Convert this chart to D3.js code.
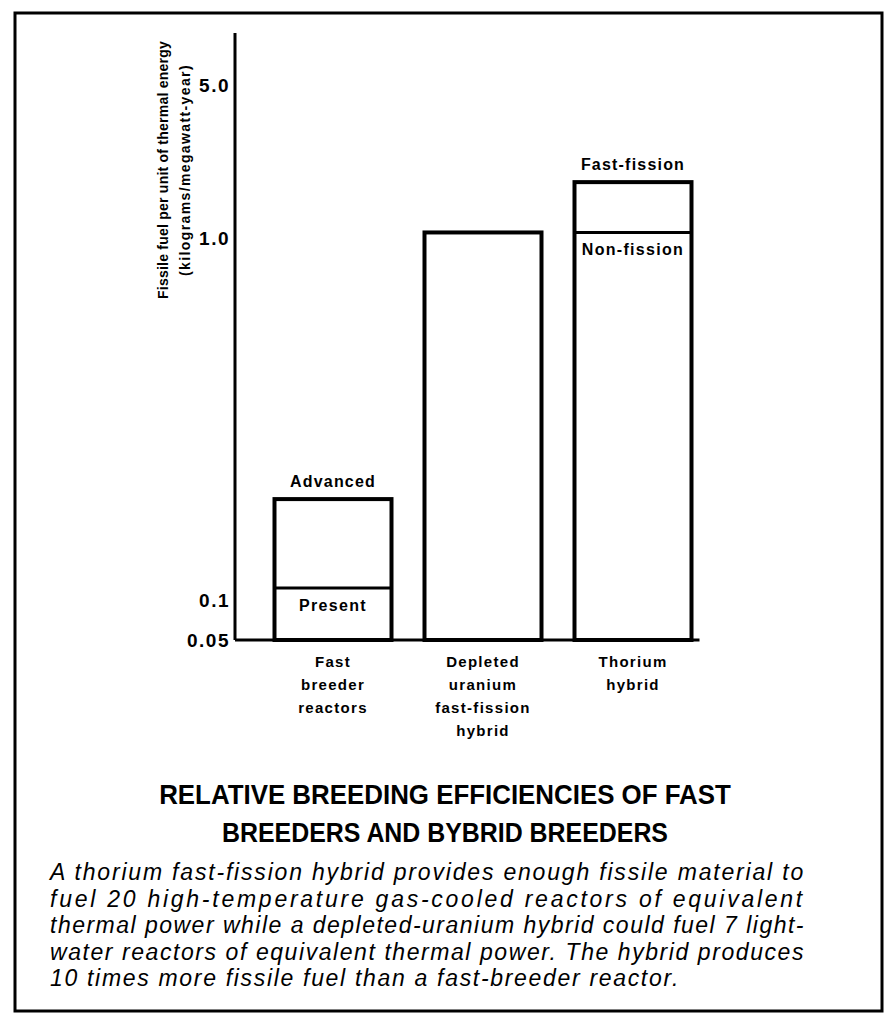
<!DOCTYPE html>
<meta charset="utf-8">
<style>
  body { margin: 0; background: #fff; }
  svg text { fill: #000; }
  .lbl { font-family: "Liberation Sans", Arial, sans-serif; font-weight: bold; }
</style>
<body>
<div id="chart"></div>
<script src="https://d3js.org/d3.v7.min.js"></script>
<script>
// ---- data ----
var categories = ["Fast breeder reactors", "Depleted uranium fast-fission hybrid", "Thorium hybrid"];
var categoryLines = [["Fast", "breeder", "reactors"], ["Depleted", "uranium", "fast-fission", "hybrid"], ["Thorium", "hybrid"]];
var lowerValues = [0.108, 1.06, 1.06];
var upperValues = [0.19, 1.06, 1.8];
var lowerLabels = ["Present", "", "Non-fission"];
var upperLabels = ["Advanced", "", "Fast-fission"];
var tickValues = [0.05, 0.1, 1.0, 5.0];
var tickLabels = ["0.05", "0.1", "1.0", "5.0"];
var yTitle = ["Fissile fuel per unit of thermal energy", "(kilograms/megawatt-year)"];
var titleLines = ["RELATIVE BREEDING EFFICIENCIES OF FAST", "BREEDERS AND BYBRID BREEDERS"];
var captionLines = [
  "A thorium fast-fission hybrid provides enough fissile material to",
  "fuel 20 high-temperature gas-cooled reactors of equivalent",
  "thermal power while a depleted-uranium hybrid could fuel 7 light-",
  "water reactors of equivalent thermal power. The hybrid produces",
  "10 times more fissile fuel than a fast-breeder reactor."
];

var width = 890, height = 1034;
var axisX = 235, axisTop = 33;

var svg = d3.select("#chart").append("svg")
  .attr("width", width)
  .attr("height", height);

svg.append("rect")
  .attr("x", 15).attr("y", 13)
  .attr("width", 867).attr("height", 998)
  .attr("fill", "#fff")
  .attr("stroke", "#000")
  .attr("stroke-width", 3);

// stretch a text to a given width with letter spacing
function fit(sel, target) {
  var t = sel.text();
  var w = sel.node().getComputedTextLength();
  sel.style("letter-spacing", ((target - w) / t.length) + "px");
}

// the original axis is not a true log axis, so the scale is piecewise
var x = d3.scaleBand()
  .domain(categories)
  .range([258, 708])
  .paddingInner(0.22)
  .paddingOuter(0.11);

var y = d3.scaleLog()
  .domain(tickValues)
  .range([640, 600, 238, 85]);

var base = y(tickValues[0]);

// axis
var yAxis = d3.axisLeft(y)
  .tickValues(tickValues)
  .tickFormat(function(d, i) { return tickLabels[i]; })
  .tickSize(0)
  .tickPadding(5);

var gAxis = svg.append("g")
  .attr("transform", "translate(" + axisX + ",0)")
  .call(yAxis);
gAxis.select(".domain").remove();
gAxis.selectAll("text")
  .attr("class", "lbl")
  .style("font-size", "19px")
  .style("letter-spacing", "1.5px")
  .attr("fill", "#000");

svg.append("line")
  .attr("x1", axisX).attr("x2", axisX)
  .attr("y1", axisTop).attr("y2", base)
  .attr("stroke", "#000").attr("stroke-width", 3);

svg.append("line")
  .attr("x1", axisX)
  .attr("x2", x(categories[2]) + x.bandwidth() + 8)
  .attr("y1", base).attr("y2", base)
  .attr("stroke", "#000").attr("stroke-width", 3);

// y title, rotated
var yt = svg.append("g")
  .attr("transform", "translate(168," + 170 + ") rotate(-90)");
yt.append("text")
  .attr("class", "lbl")
  .attr("text-anchor", "middle")
  .style("font-size", "14px")
  .text(yTitle[0])
  .call(fit, 258);
yt.append("text")
  .attr("class", "lbl")
  .attr("text-anchor", "middle")
  .attr("y", 22)
  .style("font-size", "14px")
  .text(yTitle[1])
  .call(fit, 212);

// bars
var bars = svg.append("g");
categories.forEach(function(c, i) {
  var bx = x(c), bw = x.bandwidth();
  bars.append("rect")
    .attr("x", bx).attr("y", y(upperValues[i]))
    .attr("width", bw).attr("height", base - y(upperValues[i]))
    .attr("fill", "none")
    .attr("stroke", "#000").attr("stroke-width", 4);
  if (upperValues[i] > lowerValues[i]) {
    bars.append("line")
      .attr("x1", bx).attr("x2", bx + bw)
      .attr("y1", y(lowerValues[i])).attr("y2", y(lowerValues[i]))
      .attr("stroke", "#000").attr("stroke-width", 3);
  }
  if (upperLabels[i]) {
    bars.append("text")
      .attr("class", "lbl")
      .attr("x", bx + bw / 2)
      .attr("y", y(upperValues[i]) - 12)
      .attr("text-anchor", "middle")
      .style("font-size", "16px")
      .style("font-weight", "600")
      .style("letter-spacing", "1.2px")
      .text(upperLabels[i]);
  }
  if (lowerLabels[i]) {
    bars.append("text")
      .attr("class", "lbl")
      .attr("x", bx + bw / 2)
      .attr("y", y(lowerValues[i]) + 23)
      .attr("text-anchor", "middle")
      .style("font-size", "16px")
      .style("letter-spacing", "1.3px")
      .text(lowerLabels[i]);
  }
  categoryLines[i].forEach(function(t, j) {
    bars.append("text")
      .attr("class", "lbl")
      .attr("x", bx + bw / 2)
      .attr("y", base + 27 + j * 23)
      .attr("text-anchor", "middle")
      .style("font-size", "15px")
      .style("letter-spacing", "1.3px")
      .text(t);
  });
});

// title, condensed to the printed width
titleLines.forEach(function(t, i) {
  var tt = svg.append("text")
    .attr("text-anchor", "middle")
    .style("font-family", "'Liberation Sans', sans-serif")
    .style("font-weight", "bold")
    .style("font-size", "27px")
    .text(t);
  var sx = (i === 0 ? 572 : 446) / tt.node().getComputedTextLength();
  tt.attr("transform", "translate(445," + (804 + i * 38) + ") scale(" + sx + ",1)");
});

// caption, justified like the print
var capWidths = [755, 755, 755, 755, 630];
captionLines.forEach(function(t, i) {
  svg.append("text")
    .attr("x", 50)
    .attr("y", 880 + i * 26.5)
    .style("font-family", "'Liberation Sans', sans-serif")
    .style("font-style", "italic")
    .style("font-size", "23px")
    .text(t)
    .call(fit, capWidths[i]);
});
</script>
</body>
